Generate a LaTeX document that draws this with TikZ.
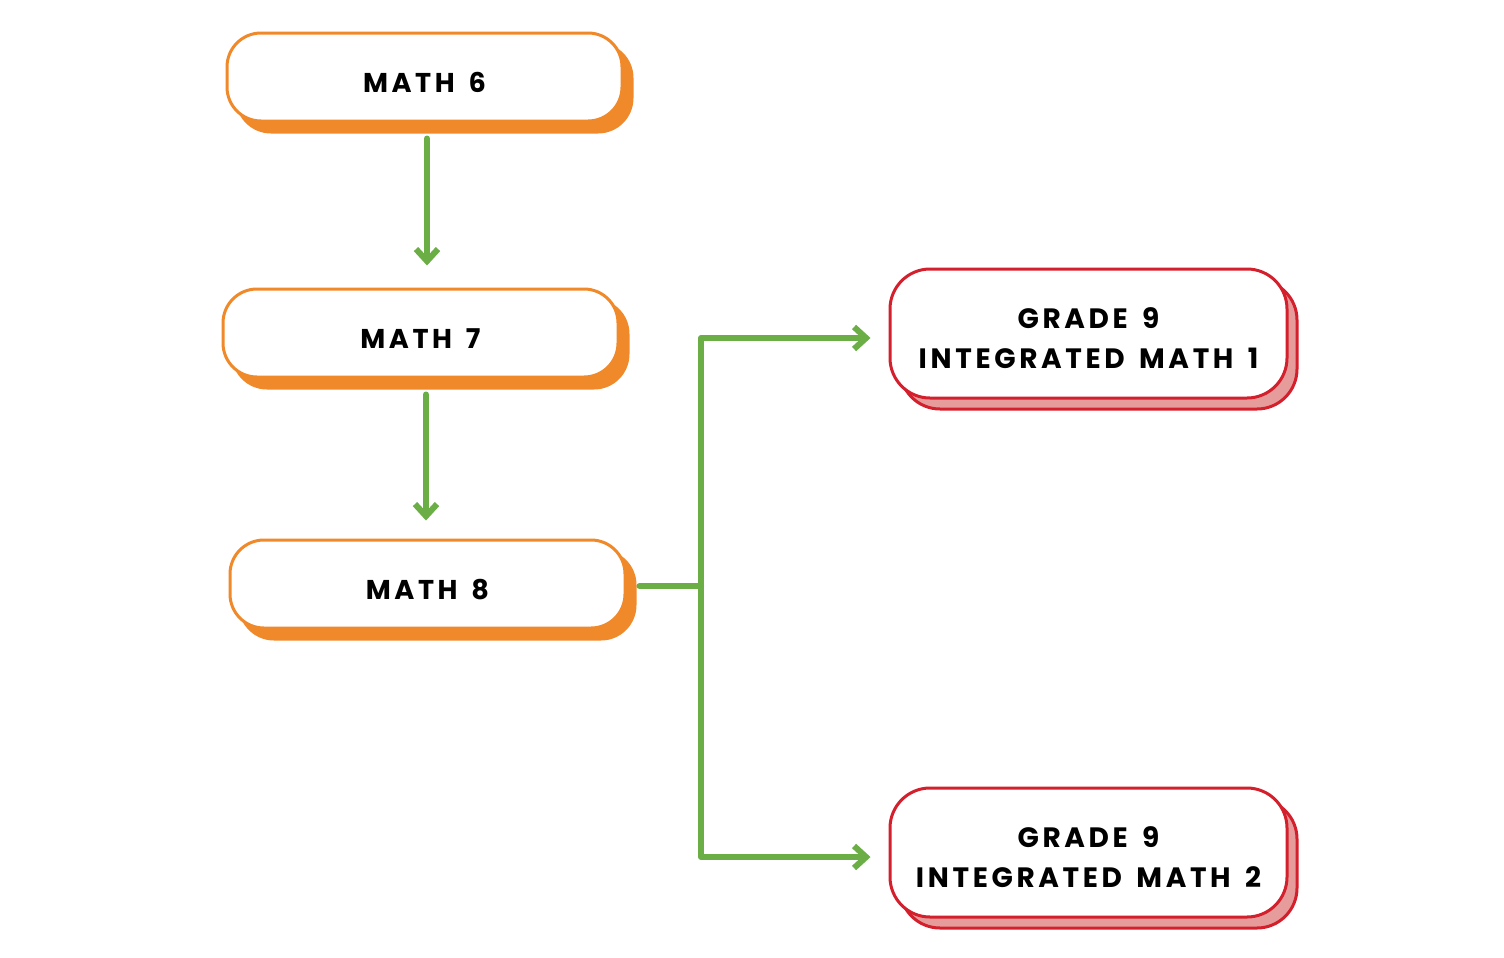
\documentclass[tikz,border=0pt]{standalone}
\usepackage{fontspec}
\setmainfont{Poppins}[LetterSpace=13,WordSpace=1.5]
\usetikzlibrary{arrows.meta,shadows,calc}
\definecolor{orng}{HTML}{F0892A}
\definecolor{rd}{HTML}{D3202C}
\definecolor{pnk}{HTML}{E79C9C}
\definecolor{grn}{HTML}{6AAE45}
\newcommand{\twolines}[2]{\raisebox{-3.5pt}[\height][\depth]{\begin{tabular}{@{}c@{}}#1\\#2\end{tabular}}}
\tikzset{
  obox/.style={draw=orng, line width=1.5pt, fill=white, rounded corners=17pt,
    minimum width=197.5pt, minimum height=44pt, font=\fontsize{13.6}{18}\selectfont\bfseries,
    text height=15.3pt, text depth=0pt,
    copy shadow={shadow xshift=5pt, shadow yshift=-5.5pt, fill=orng, draw=orng, line width=1.5pt}},
  rbox/.style={draw=rd, line width=1.5pt, fill=white, rounded corners=20pt,
    minimum width=198.5pt, minimum height=64.5pt,
    font=\fontsize{14}{20}\selectfont\bfseries,
    copy shadow={shadow xshift=5pt, shadow yshift=-5.5pt, fill=pnk, draw=rd, line width=1.5pt}},
  conn/.style={draw=grn, line width=3pt, line cap=round, line join=round},
  arr/.style={conn, -{Straight Barb[length=6pt,width=11pt,line width=3pt]}},
}
\begin{document}
\begin{tikzpicture}[x=0.5pt,y=-0.5pt]
\useasboundingbox[fill=white] (0,0) rectangle (1504,958);
\node[obox] (m6) at (424.5,77) {MATH 6};
\node[obox] (m7) at (420.5,333) {MATH 7};
\node[obox] (m8) at (427.5,584) {MATH 8};
\node[rbox] (im1) at (1088.5,333.5) {\twolines{GRADE 9}{INTEGRATED MATH 1}};
\node[rbox] (im2) at (1088.5,852.5) {\twolines{GRADE 9}{INTEGRATED MATH 2}};
\draw[arr] ([xshift=1.25pt,yshift=-8pt]m6.south) -- ++(0,127);
\draw[arr] ([xshift=2.75pt,yshift=-8pt]m7.south) -- ++(0,126);
\coordinate (br) at (701,586);
\draw[conn] ([xshift=6.5pt,yshift=-1pt]m8.east) -- (br);
\draw[arr] (br) |- ([xshift=-9pt,yshift=-2.25pt]im1.west);
\draw[arr] (br) |- ([xshift=-9pt,yshift=-2.25pt]im2.west);
\end{tikzpicture}
\end{document}
